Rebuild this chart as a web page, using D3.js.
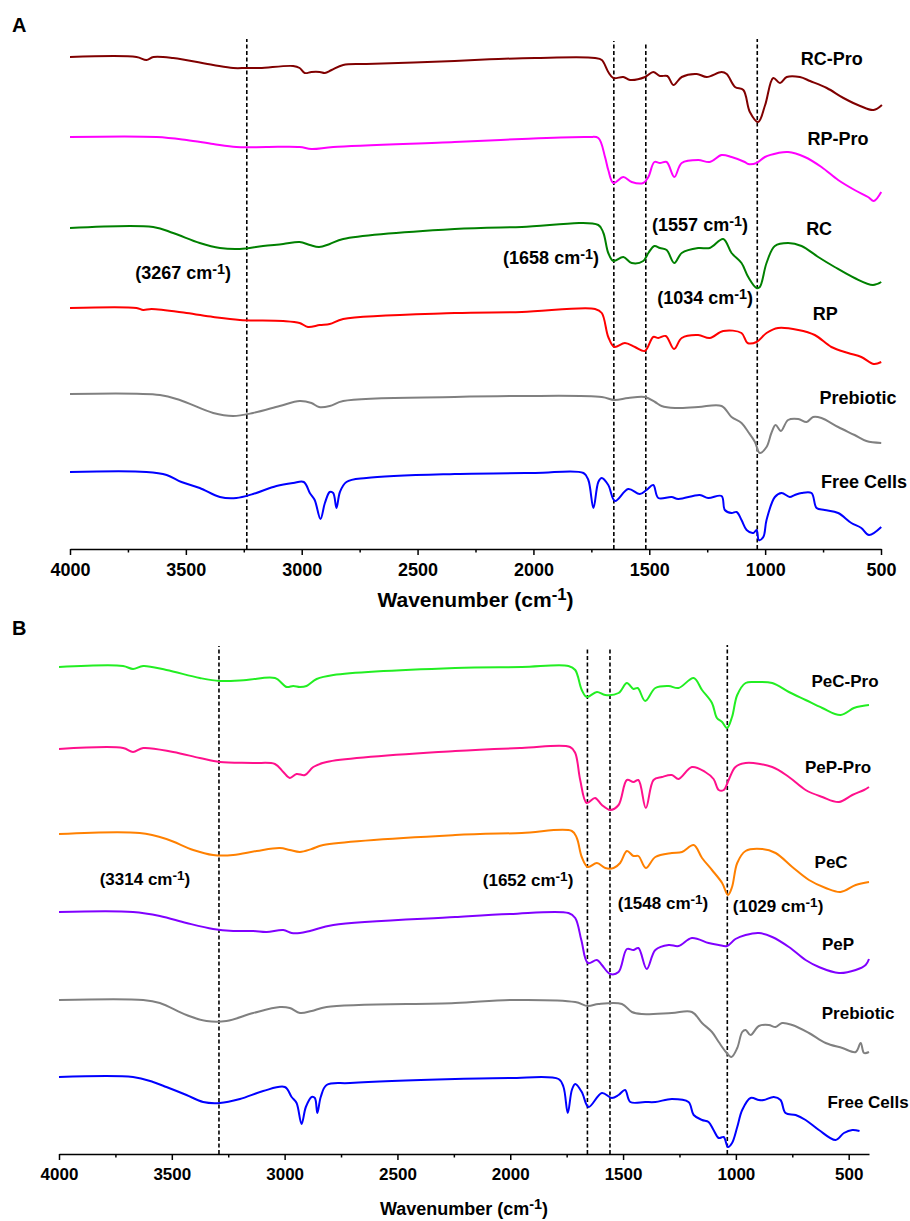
<!DOCTYPE html>
<html>
<head>
    <meta charset="utf-8">
    <script src="https://cdn.jsdelivr.net/npm/d3@7/dist/d3.min.js"></script>
    <style>
        body { margin: 0; background: white; }
        svg text {
            font-family: Arial, "Liberation Sans", sans-serif;
            font-weight: bold;
            fill: black;
        }
    </style>
</head>
<body>
    <div id="chart"></div>

    <script>
        // Spectra: [wavenumber (cm-1), transmittance (a.u., stacked)]
        // Panel A
        const rcPro = [[4000,492],[3713,492],[3670,489],[3640,492],[3555,491],[3382,484],[3296,481],[3239,481],[3181,481],[3037,483],[3009,481],[2987,476],[2958,477],[2922,477],[2900,476],[2871,479],[2821,484],[2721,485],[2340,488],[2151,490],[1993,491],[1734,491],[1705,489],[1677,477],[1655,471],[1612,472],[1583,469],[1518,472],[1483,477],[1454,473],[1422,473],[1396,464],[1360,472],[1295,475],[1252,472],[1188,477],[1166,475],[1130,462],[1094,459],[1066,437],[1030,427],[1000,444],[965,471],[936,466],[907,472],[850,472],[806,468],[734,461],[662,451],[590,443],[532,439],[496,444]];
        const rpPro = [[4000,412],[3626,412],[3497,409],[3382,405],[3282,402],[3152,402],[3009,402],[2958,400],[2864,402],[2340,407],[2050,410],[1763,412],[1720,411],[1691,392],[1677,379],[1655,366],[1612,372],[1576,367],[1526,366],[1504,372],[1478,387],[1454,386],[1425,387],[1392,372],[1360,386],[1289,389],[1239,387],[1188,394],[1145,392],[1088,387],[1073,385],[1037,386],[1001,392],[944,396],[901,397],[829,392],[757,382],[685,369],[614,359],[556,352],[531,348],[499,357]];
        const rc = [[4000,321],[3641,322],[3555,316],[3440,306],[3353,301],[3267,300],[3167,303],[3080,305],[3009,307],[2965,304],[2925,302],[2879,305],[2821,310],[2340,320],[2050,322],[1720,324],[1698,316],[1677,296],[1655,288],[1612,292],[1576,286],[1526,288],[1504,296],[1478,303],[1454,301],[1425,299],[1392,286],[1360,296],[1289,301],[1239,301],[1181,310],[1145,296],[1102,286],[1073,272],[1037,261],[1023,262],[994,286],[958,303],[901,306],[843,303],[771,292],[700,282],[614,271],[535,264],[499,267]];
        const rp = [[4000,241],[3713,241],[3684,239],[3648,240],[3497,236],[3382,232],[3267,229],[3080,228],[3009,226],[2973,222],[2922,224],[2879,225],[2821,230],[2340,236],[2050,237],[1734,240],[1705,236],[1677,212],[1651,202],[1605,206],[1562,202],[1519,198],[1483,212],[1461,211],[1429,213],[1393,200],[1360,211],[1289,214],[1239,211],[1181,218],[1102,216],[1076,206],[1037,207],[994,216],[944,221],[857,219],[786,214],[714,202],[642,196],[585,192],[531,185],[499,187]];
        const prebioticA = [[4000,155],[3612,154],[3526,149],[3382,136],[3296,133],[3210,136],[3095,143],[3009,148],[2958,146],[2925,142],[2879,143],[2821,148],[2340,152],[2050,153],[1705,152],[1651,149],[1591,151],[1519,152],[1475,147],[1447,143],[1389,141],[1289,142],[1188,143],[1145,132],[1102,126],[1073,117],[1044,107],[1023,96],[994,102],[973,116],[955,124],[932,118],[901,129],[857,130],[821,127],[793,132],[757,131],[685,122],[614,114],[563,108],[499,106]];
        const freeCellsA = [[4000,77],[3670,77],[3583,74],[3519,67],[3440,61],[3353,52],[3282,51],[3210,55],[3109,63],[3037,66],[2991,67],[2965,56],[2944,49],[2919,30],[2900,46],[2879,57],[2864,56],[2850,41],[2835,57],[2807,67],[2721,71],[2340,75],[1993,76],[1784,76],[1763,69],[1741,41],[1720,67],[1705,71],[1677,64],[1648,48],[1591,60],[1541,55],[1512,59],[1483,64],[1461,51],[1404,52],[1375,50],[1282,54],[1246,51],[1188,53],[1174,39],[1145,36],[1123,37],[1102,29],[1080,19],[1051,16],[1037,19],[1027,9],[1008,12],[994,29],[958,52],[929,56],[894,52],[872,54],[843,56],[800,56],[778,41],[743,39],[685,36],[628,26],[585,21],[552,14],[499,22]];

        // Panel B
        const pecPro = [[4000,487],[3716,488],[3672,485],[3627,488],[3524,484],[3376,476],[3287,473],[3169,474],[3043,476],[2991,467],[2962,468],[2932,467],[2903,468],[2858,475],[2784,479],[2244,486],[1949,487],[1742,488],[1712,484],[1683,464],[1661,457],[1616,462],[1579,459],[1520,461],[1483,471],[1454,465],[1435,466],[1402,453],[1357,466],[1298,468],[1254,466],[1187,476],[1150,464],[1106,451],[1084,436],[1061,432],[1039,426],[1017,437],[994,459],[957,471],[913,472],[839,471],[765,462],[691,454],[617,446],[536,439],[477,446],[440,448],[410,449]];
        const pepPro = [[4000,405],[3716,406],[3672,402],[3627,406],[3494,402],[3376,396],[3287,392],[3139,391],[3043,390],[3006,382],[2977,376],[2947,380],[2910,379],[2873,387],[2814,392],[2244,403],[1949,406],[1735,407],[1712,401],[1690,374],[1661,351],[1624,356],[1594,349],[1557,344],[1520,349],[1483,374],[1454,372],[1432,374],[1399,346],[1365,374],[1328,377],[1284,379],[1254,375],[1195,387],[1136,382],[1099,375],[1076,364],[1054,364],[1032,374],[1002,387],[957,391],[839,387],[765,377],[691,364],[617,357],[543,352],[484,359],[432,364],[410,367]];
        const pec = [[4000,320],[3642,321],[3524,315],[3405,304],[3317,299],[3228,299],[3124,303],[3021,306],[2977,304],[2932,302],[2880,305],[2829,309],[2244,319],[1949,321],[1727,323],[1705,316],[1683,297],[1656,287],[1616,291],[1579,286],[1542,286],[1513,291],[1483,303],[1454,298],[1432,298],[1399,286],[1357,297],[1284,301],[1239,302],[1187,309],[1150,296],[1106,284],[1061,271],[1035,259],[1017,267],[994,291],[957,303],[883,305],[824,301],[750,287],[676,274],[602,266],[536,262],[469,269],[410,272]];
        const pep = [[4000,242],[3672,242],[3553,238],[3435,231],[3317,225],[3228,223],[3139,223],[3080,222],[3006,224],[2969,221],[2932,221],[2888,223],[2784,229],[2244,237],[2001,240],[1742,241],[1712,236],[1685,214],[1656,191],[1616,194],[1594,189],[1557,180],[1520,182],[1483,205],[1454,204],[1432,206],[1395,185],[1357,204],[1298,209],[1254,208],[1195,216],[1121,211],[1076,209],[1039,208],[1002,215],[957,219],[898,221],[839,217],[765,207],[691,194],[632,187],[543,181],[469,184],[425,189],[410,195]];
        const prebioticB = [[4000,154],[3627,154],[3553,151],[3435,139],[3346,133],[3258,133],[3139,141],[3021,147],[2977,146],[2932,141],[2880,143],[2814,147],[2244,151],[2001,154],[1712,152],[1656,148],[1609,150],[1505,150],[1461,142],[1417,140],[1284,141],[1195,142],[1150,131],[1106,122],[1076,112],[1044,102],[1020,97],[994,106],[972,122],[957,124],[935,119],[898,128],[854,129],[824,127],[795,131],[750,129],[676,121],[602,111],[528,106],[469,102],[447,111],[432,101],[410,102]];
        const freeCellsB = [[4000,77],[3672,77],[3583,72],[3524,67],[3435,59],[3361,52],[3287,51],[3198,55],[3095,63],[2999,67],[2969,57],[2947,51],[2925,30],[2906,47],[2880,57],[2866,56],[2855,41],[2840,57],[2814,69],[2710,71],[2244,75],[2001,76],[1786,75],[1764,67],[1745,41],[1727,64],[1712,70],[1683,62],[1653,47],[1594,61],[1550,56],[1520,59],[1491,64],[1468,52],[1402,52],[1357,52],[1284,55],[1210,52],[1187,39],[1150,34],[1121,32],[1099,24],[1076,16],[1054,17],[1035,7],[1017,11],[994,27],[972,44],[935,56],[898,54],[876,54],[832,57],[802,54],[780,41],[735,39],[691,34],[632,24],[558,14],[521,21],[484,24],[452,23]];

        const namesA = ["RC-Pro", "RP-Pro", "RC", "RP", "Prebiotic", "Free Cells"];
        const namesB = ["PeC-Pro", "PeP-Pro", "PeC", "PeP", "Prebiotic", "Free Cells"];
        const colorsA = ["#800000", "#ff00ff", "#008000", "#ff0000", "#808080", "#0000ff"];
        const colorsB = ["#22ee22", "#ff108c", "#ff8000", "#8000ff", "#808080", "#0000ff"];

        // Dashed reference lines (as drawn) and the band labels
        const markersA = [3237, 1653, 1515, 1034];
        const markersB = [3291, 1658, 1558, 1038];
        const bandsA = [3267, 1658, 1557, 1034];
        const bandsB = [3314, 1652, 1548, 1029];

        const majorTicks = [4000, 3500, 3000, 2500, 2000, 1500, 1000, 500];
        const minorTicks = [3750, 3250, 2750, 2250, 1750, 1250, 750];

        const width = 910;
        const height = 1221;

        const svg = d3.select("#chart")
            .append("svg")
            .attr("width", width)
            .attr("height", height);

        const panels = [
            {
                letter: "A", letterY: 32,
                spectra: [rcPro, rpPro, rc, rp, prebioticA, freeCellsA],
                names: namesA, colors: colorsA,
                markers: markersA, markerTop: [510, 508, 507, 510],
                bands: bandsA,
                // label anchors in data coords [wavenumber, value]
                bandPos: [[3512, 276], [1924, 291], [1281, 324], [1259, 251]],
                namePos: [[713, 490], [686, 410], [767, 320], [741, 235], [599, 151], [573, 67]],
                xDomain: [4000, 500], xRange: [70, 881], axisY: 549,
                fs: 18, titleFs: 21, titleY: 607
            },
            {
                letter: "B", letterY: 635,
                spectra: [pecPro, pepPro, pec, pep, prebioticB, freeCellsB],
                names: namesB, colors: colorsB,
                markers: markersB, markerTop: [508, 507, 507, 509],
                bands: bandsB,
                bandPos: [[3619, 275], [1921, 274], [1323, 251], [813, 248]],
                namePos: [[516, 473], [547, 387], [578, 292], [547, 210], [458, 141], [414, 52]],
                xDomain: [4000, 410], xRange: [59, 869], axisY: 1154,
                fs: 17, titleFs: 18, titleY: 1215
            }
        ];

        // "(1234 cm-1)" with a raised -1
        function waveLabel(sel, txt, fs, open, close) {
            sel.append("tspan").text(open + txt + " cm");
            sel.append("tspan").attr("font-size", fs * 0.8).attr("dy", -fs * 0.32).text("-1");
            sel.append("tspan").attr("dy", fs * 0.32).text(close);
        }

        panels.forEach(p => {
            const x = d3.scaleLinear().domain(p.xDomain).range(p.xRange);
            const y = d3.scaleLinear().domain([0, 510]).range([p.axisY, p.axisY - 510]);
            const g = svg.append("g");

            // panel letter
            svg.append("text")
                .attr("x", 12)
                .attr("y", p.letterY)
                .style("font-size", "20px")
                .text(p.letter);

            // dashed band lines
            g.selectAll(".marker")
                .data(p.markers)
                .join("line")
                .attr("class", "marker")
                .attr("x1", d => x(d))
                .attr("x2", d => x(d))
                .attr("y1", y(0))
                .attr("y2", (d, i) => y(p.markerTop[i]))
                .attr("stroke", "black")
                .attr("stroke-width", 1.6)
                .attr("stroke-dasharray", "4,2.5");

            const line = d3.line()
                .x(d => x(d[0]))
                .y(d => y(d[1]))
                .curve(d3.curveCatmullRom.alpha(0.5));

            g.selectAll(".spectrum")
                .data(p.spectra)
                .join("path")
                .attr("class", "spectrum")
                .attr("d", line)
                .attr("fill", "none")
                .attr("stroke", (d, i) => p.colors[i])
                .attr("stroke-width", 2)
                .attr("stroke-linejoin", "round");

            // series names
            g.selectAll(".name")
                .data(p.names)
                .join("text")
                .attr("class", "name")
                .attr("x", (d, i) => x(p.namePos[i][0]))
                .attr("y", (d, i) => y(p.namePos[i][1]) + p.fs * 0.36)
                .attr("text-anchor", "middle")
                .style("font-size", p.fs + "px")
                .text(d => d);

            // band annotations
            p.bands.forEach((b, i) => {
                const t = g.append("text")
                    .attr("x", x(p.bandPos[i][0]))
                    .attr("y", y(p.bandPos[i][1]) + p.fs * 0.36)
                    .attr("text-anchor", "middle")
                    .style("font-size", p.fs + "px");
                waveLabel(t, b, p.fs, "(", ")");
            });

            // x axis: major ticks with labels, then minor ticks
            const axis = g.append("g")
                .attr("transform", `translate(0,${p.axisY})`)
                .call(d3.axisBottom(x)
                    .tickValues(majorTicks)
                    .tickSize(6)
                    .tickSizeOuter(0)
                    .tickPadding(8)
                    .tickFormat(d3.format("d")));
            axis.selectAll("text")
                .style("font-size", p.fs + "px")
                .style("font-family", "Arial, 'Liberation Sans', sans-serif")
                .style("font-weight", "bold");
            axis.select(".domain").attr("stroke-width", 1.5);
            axis.selectAll(".tick line").attr("stroke-width", 1.5);

            const minor = g.append("g")
                .attr("transform", `translate(0,${p.axisY})`)
                .call(d3.axisBottom(x)
                    .tickValues(minorTicks)
                    .tickSize(3.5)
                    .tickSizeOuter(0)
                    .tickFormat(""));
            minor.select(".domain").remove();
            minor.selectAll(".tick line").attr("stroke-width", 1.5);

            // axis title
            const title = svg.append("text")
                .attr("x", (p.xRange[0] + p.xRange[1]) / 2)
                .attr("y", p.titleY)
                .attr("text-anchor", "middle")
                .style("font-size", p.titleFs + "px");
            title.append("tspan").text("Wavenumber (cm");
            title.append("tspan").attr("font-size", p.titleFs * 0.8).attr("dy", -p.titleFs * 0.32).text("-1");
            title.append("tspan").attr("dy", p.titleFs * 0.32).text(")");
        });
    </script>
</body>
</html>
